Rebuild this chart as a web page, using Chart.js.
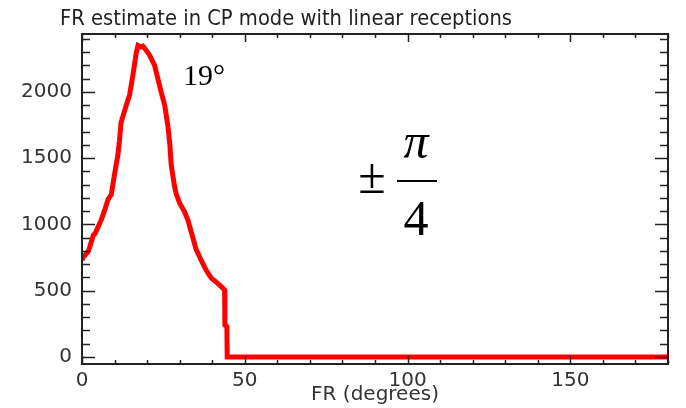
<!DOCTYPE html>
<html>
<head>
<meta charset="utf-8">
<script src="https://cdn.jsdelivr.net/npm/chart.js@4/dist/chart.umd.min.js"></script>
<style>
html,body{margin:0;padding:0;background:#fff;}
#wrap{width:686px;height:408px;position:relative;}
</style>
</head>
<body>
<div id="wrap"><canvas id="c" width="686" height="408"></canvas></div>
<script>
// ---- data ----
const chartTitle = "FR estimate in CP mode with linear receptions";
const xAxisTitle = "FR (degrees)";
const frDegrees = [0, 0.5, 1, 2, 2.5, 3, 3.5, 4, 5, 6, 7, 8, 9, 10, 11, 11.5, 12, 13, 13.6, 14.6, 15.6, 16.7, 17.2, 18, 18.7, 19.7, 20.8, 22.3, 23.3, 24.3, 25.4, 26.4, 27, 27.4, 28.4, 28.9, 30, 31.5, 32.5, 34, 35, 36.6, 38.1, 39.7, 41.7, 43.2, 43.8, 43.9, 44.5, 44.6, 180];
const counts    = [730, 760, 770, 800, 840, 880, 920, 930, 985, 1040, 1110, 1190, 1225, 1380, 1520, 1630, 1770, 1850, 1900, 1975, 2120, 2300, 2350, 2340, 2345, 2315, 2275, 2200, 2100, 2000, 1900, 1740, 1600, 1450, 1290, 1235, 1160, 1095, 1035, 905, 815, 730, 656, 595, 555, 520, 505, 240, 230, 0, 0];
const xRange = [0, 180];
const yRange = [-53, 2437];
const xTickLabels = [0, 50, 100, 150];
const yTickLabels = [0, 500, 1000, 1500, 2000];
const xMinorStep = 10;
const yMinorStep = 100;
const peakLabel = "19°";
const fractionNumerator = "π";
const fractionDenominator = "4";
const fractionSign = "±";

const points = frDegrees.map((x, i) => ({x: x, y: counts[i]}));

function stepTicks(lo, hi, step) {
  const out = [];
  for (let v = Math.ceil(lo / step) * step; v <= hi + 1e-9; v += step) out.push({value: v});
  return out;
}

const frame = {
  id: 'frame',
  afterDatasetsDraw(chart) {
    const ctx = chart.ctx, a = chart.chartArea;
    const xs = chart.scales.x, ys = chart.scales.y;
    ctx.save();
    ctx.strokeStyle = '#222';
    ctx.lineWidth = 2;
    ctx.strokeRect(a.left, a.top, a.right - a.left, a.bottom - a.top);
    ctx.lineWidth = 1.5;
    ctx.beginPath();
    xs.ticks.forEach(t => {
      const len = xTickLabels.includes(t.value) ? 8 : 4;
      const px = Math.round(xs.getPixelForValue(t.value)) + 0.5;
      ctx.moveTo(px, a.bottom); ctx.lineTo(px, a.bottom - len);
      ctx.moveTo(px, a.top); ctx.lineTo(px, a.top + len);
    });
    ys.ticks.forEach(t => {
      const len = yTickLabels.includes(t.value) ? 13 : 8;
      const py = Math.round(ys.getPixelForValue(t.value)) + 0.5;
      ctx.moveTo(a.left, py); ctx.lineTo(a.left + len, py);
      ctx.moveTo(a.right, py); ctx.lineTo(a.right - len, py);
    });
    ctx.stroke();
    ctx.restore();
  },
  afterDraw(chart) {
    const ctx = chart.ctx;
    ctx.save();
    // title
    ctx.fillStyle = '#222';
    ctx.textBaseline = 'alphabetic';
    ctx.textAlign = 'left';
    ctx.font = '21px "DejaVu Sans"';
    const w = ctx.measureText(chartTitle).width;
    ctx.translate(60, 25);
    ctx.scale(452 / w, 1);
    ctx.fillText(chartTitle, 0, 0);
    ctx.restore();
    ctx.save();
    // annotations
    ctx.fillStyle = '#000';
    ctx.textBaseline = 'alphabetic';
    ctx.font = '30px "Liberation Serif"';
    ctx.fillText(peakLabel, 183, 85);
    ctx.textAlign = 'center';
    ctx.font = '50px "Liberation Serif"';
    ctx.fillText(fractionSign, 372, 193);
    ctx.fillText(fractionDenominator, 416, 235);
    ctx.font = 'italic 50px "Liberation Serif"';
    ctx.fillText(fractionNumerator, 416, 158);
    ctx.fillRect(397, 180, 40, 2);
    ctx.restore();
  }
};

new Chart(document.getElementById('c'), {
  type: 'line',
  data: {
    datasets: [{
      data: points,
      borderColor: '#f00',
      borderWidth: 5,
      pointRadius: 0,
      fill: false,
      tension: 0,
      borderJoinStyle: 'miter'
    }]
  },
  options: {
    responsive: false,
    animation: false,
    devicePixelRatio: 1,
    layout: {padding: {top: 34, right: 18, left: 0, bottom: 0}},
    plugins: {legend: {display: false}, tooltip: {enabled: false}, title: {display: false}},
    scales: {
      x: {
        type: 'linear', min: xRange[0], max: xRange[1],
        grid: {display: false, drawTicks: false},
        border: {display: false},
        afterBuildTicks(s) { s.ticks = stepTicks(xRange[0], xRange[1], xMinorStep); },
        ticks: {
          autoSkip: false, maxRotation: 0, padding: 5,
          color: '#333', font: {family: 'DejaVu Sans', size: 20},
          callback: v => xTickLabels.includes(v) ? String(v) : ''
        },
        title: {display: true, text: xAxisTitle, color: '#333',
          font: {family: 'DejaVu Sans', size: 20}, padding: {top: 0, bottom: 1}},
        afterFit(s) { s.height = 44; }
      },
      y: {
        type: 'linear', min: yRange[0], max: yRange[1],
        grid: {display: false, drawTicks: false},
        border: {display: false},
        afterBuildTicks(s) { s.ticks = stepTicks(yRange[0], yRange[1], yMinorStep); },
        ticks: {
          autoSkip: false, padding: 10,
          color: '#333', font: {family: 'DejaVu Sans', size: 20},
          callback: v => yTickLabels.includes(v) ? String(v) : ''
        },
        afterFit(s) { s.width = 82; }
      }
    }
  },
  plugins: [frame]
});
</script>
</body>
</html>
